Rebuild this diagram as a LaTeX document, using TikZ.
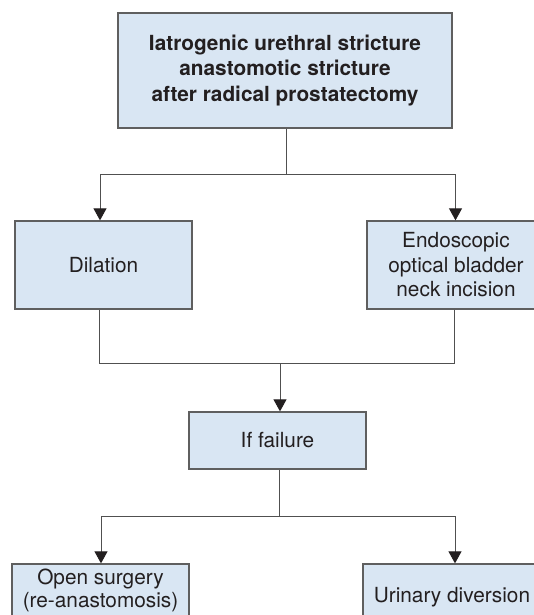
\documentclass[tikz,border=0pt]{standalone}
\usepackage{fontspec}
\setmainfont{TeX Gyre Heros}
\usetikzlibrary{arrows.meta}
\definecolor{boxfill}{RGB}{217,230,243}
\definecolor{boxline}{RGB}{95,95,95}
\definecolor{connline}{RGB}{80,80,80}
\definecolor{txt}{RGB}{35,31,32}
\begin{document}
\begin{tikzpicture}[x=1pt,y=-1pt,
  box/.style={draw=boxline,line width=1.3pt,fill=boxfill,inner sep=0pt,align=center,
    text=txt,font=\fontsize{20.8}{24.5}\selectfont},
  conn/.style={draw=connline,line width=0.9pt},
  arr/.style={-{Triangle[width=13pt,length=12pt,fill=txt,color=txt]}}]
\useasboundingbox (0,0) rectangle (534,615);
\clip (0,0) rectangle (534,615);
\fill[white] (0,0) rectangle (534,615);
% boxes
\node[box,minimum width=334pt,minimum height=115pt,font=\fontsize{20.8}{25.5}\selectfont\bfseries] (top) at (285,70.5)
  {Iatrogenic urethral stricture\\anastomotic stricture\\after radical prostatectomy};
\node[box,minimum width=177pt,minimum height=88pt] (dil) at (103.5,265) {Dilation};
\node[box,minimum width=178pt,minimum height=88pt] (endo) at (456,265)
  {Endoscopic\\optical bladder\\neck incision};
\node[box,minimum width=177pt,minimum height=57pt] (fail) at (277.5,440.5) {If failure};
\node[box,minimum width=177pt,minimum height=52pt,font=\fontsize{20.8}{23}\selectfont] (open) at (100.5,590)
  {Open surgery\\(re-anastomosis)};
\node[box,minimum width=178pt,minimum height=66pt] (uri) at (452,597) {Urinary diversion};
% junctions
\coordinate (j1) at (286,174);
\coordinate (j2) at (280,363);
\coordinate (j3) at (279,516);
\coordinate (dIn) at (100,0);
\coordinate (eIn) at (455.5,0);
\coordinate (dOut) at (99,0);
\coordinate (eOut) at (454.5,0);
\coordinate (oIn) at (101,0);
\coordinate (uIn) at (455,0);
% connectors
\draw[conn] (top.south -| j1) -- (j1);
\draw[conn,arr] (j1) -| (dil.north -| dIn);
\draw[conn,arr] (j1) -| (endo.north -| eIn);
\draw[conn] (dil.south -| dOut) |- (j2);
\draw[conn] (endo.south -| eOut) |- (j2);
\draw[conn,arr] (j2) -- (fail.north -| j2);
\draw[conn] (fail.south -| j3) -- (j3);
\draw[conn,arr] (j3) -| (open.north -| oIn);
\draw[conn,arr] (j3) -| (uri.north -| uIn);
\end{tikzpicture}
\end{document}
